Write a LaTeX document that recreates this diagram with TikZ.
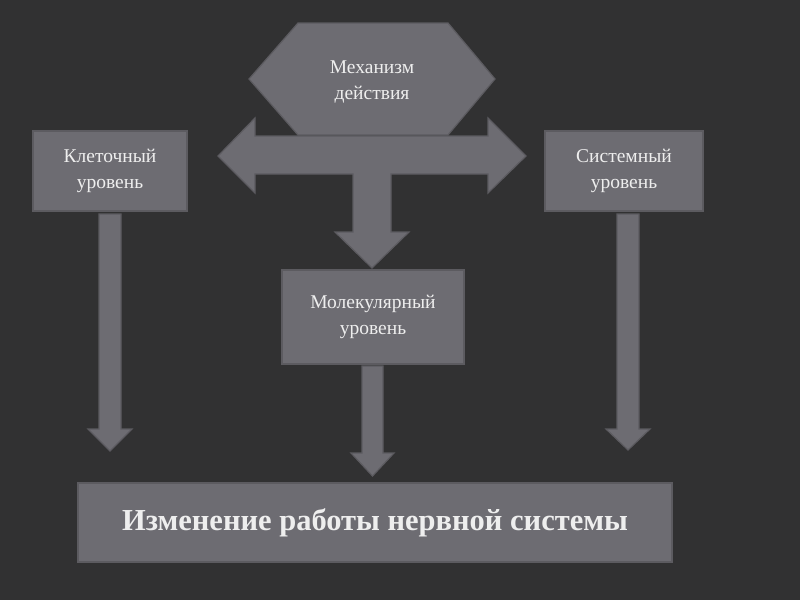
\documentclass[tikz,border=0pt]{standalone}
\usepackage{fontspec}
\setmainfont{Liberation Serif}
\definecolor{bgcol}{RGB}{49,49,50}
\definecolor{boxfill}{RGB}{109,108,114}
\definecolor{boxline}{RGB}{92,91,96}
\definecolor{txtcol}{RGB}{238,238,238}
\tikzset{
  panel/.style={draw=boxline, line width=1.2pt, fill=boxfill, text=txtcol, align=center,
    inner sep=0pt, font=\fontsize{19.5}{25.5}\selectfont},
  shapefill/.style={draw=boxline, line width=1.2pt, fill=boxfill},
  label/.style={text=txtcol, align=center, inner sep=0pt, font=\fontsize{19.5}{25.5}\selectfont}
}
\newcommand{\blockdown}[6]{% x-center, stem half-width, head half-width, top y, head base y, tip y
  \fill[shapefill] (#1-#2,#4) -- (#1+#2,#4) -- (#1+#2,#5) -- (#1+#3,#5) -- (#1,#6)
    -- (#1-#3,#5) -- (#1-#2,#5) -- cycle;}
\begin{document}
\begin{tikzpicture}[x=1pt,y=-1pt]
\useasboundingbox (0,0) rectangle (800,600);
\fill[bgcol] (0,0) rectangle (800,600);

% T-shaped double arrow
\draw[shapefill] (218,156) -- (255,118) -- (255,136) -- (488,136) -- (488,118) -- (526,156)
  -- (488,193) -- (488,174) -- (391,174) -- (391,232) -- (409,232) -- (372,268)
  -- (335,232) -- (353,232) -- (353,174) -- (255,174) -- (255,193) -- cycle;
\coordinate (tL) at (218,156);
\coordinate (tR) at (526,156);
\coordinate (tD) at (372,268);

% hexagon
\draw[shapefill] (298,23) -- (448,23) -- (495,79) -- (448,135) -- (298,135) -- (249,79) -- cycle;
\node[label] (mech) at (372,82) {Механизм\\действия};

% boxes
\node[panel, minimum width=154pt, minimum height=80pt] (cell) at (110,171) {Клеточный\\уровень};
\node[panel, minimum width=158pt, minimum height=80pt] (sys) at (624,171) {Системный\\уровень};
\node[panel, minimum width=182pt, minimum height=94pt] (mol) at (373,317) {Молекулярный\\уровень};
\node[panel, minimum width=594pt, minimum height=79pt, font=\fontsize{30.5}{34}\selectfont\bfseries] (res) at (375,522.5) {Изменение работы нервной системы};

% down arrows
\blockdown{110}{11}{22}{214}{429}{451}
\blockdown{372.5}{10.5}{21.5}{366}{453}{476}
\blockdown{628}{11}{22}{214}{429}{450}
\end{tikzpicture}
\end{document}
